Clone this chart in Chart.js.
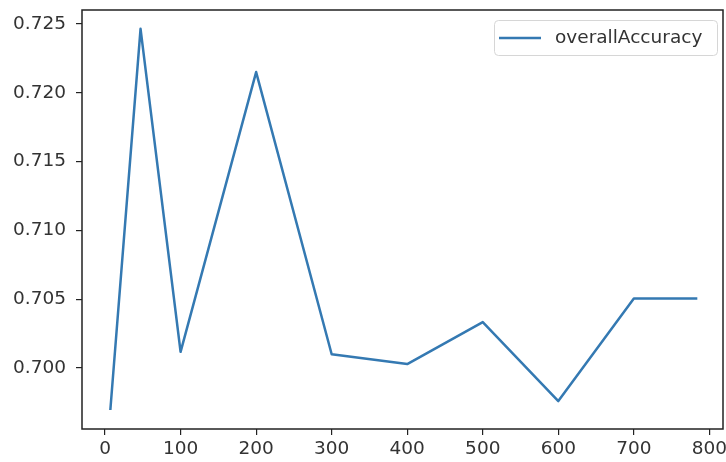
<!DOCTYPE html>
<html>
<head>
<meta charset="utf-8">
<script src="https://cdn.jsdelivr.net/npm/chart.js@4"></script>
<style>
  html, body { margin: 0; padding: 0; background: #fff; }
  #wrap { width: 726px; height: 462px; }
</style>
</head>
<body>
<div id="wrap"><canvas id="acc-chart" width="726" height="462"></canvas></div>
<script>
// Dữ liệu
const steps = [7, 47, 100, 200, 300, 400, 500, 600, 700, 784];
const overallAccuracy = [0.69695, 0.72465, 0.70118, 0.72151, 0.70100, 0.70029, 0.70334, 0.69760, 0.70505, 0.70505];
const xTicks = [0, 100, 200, 300, 400, 500, 600, 700, 800];
const yTicks = [0.700, 0.705, 0.710, 0.715, 0.720, 0.725];

const lineColor = '#3479b2';
const tickFont = { family: 'DejaVu Sans', size: 18.5 };

// Khung trục và chú thích kiểu matplotlib
const framePlugin = {
    id: 'frame',
    afterDraw(chart) {
        const { ctx, chartArea: a } = chart;
        ctx.save();
        ctx.strokeStyle = '#222';
        ctx.lineWidth = 1.5;
        ctx.strokeRect(a.left, a.top, a.right - a.left, a.bottom - a.top);

        // legend
        const label = chart.data.datasets[0].label;
        const bx = 494, by = 20, bw = 223, bh = 35;
        ctx.strokeStyle = '#d6d6d6';
        ctx.lineWidth = 1;
        ctx.fillStyle = 'rgba(255,255,255,0.8)';
        ctx.beginPath();
        ctx.roundRect(bx + 0.5, by + 0.5, bw, bh, 4);
        ctx.fill();
        ctx.stroke();
        ctx.strokeStyle = lineColor;
        ctx.lineWidth = 2.5;
        ctx.beginPath();
        ctx.moveTo(499, by + bh / 2 + 0.5);
        ctx.lineTo(541, by + bh / 2 + 0.5);
        ctx.stroke();
        ctx.fillStyle = '#333';
        ctx.font = '18.5px "DejaVu Sans"';
        ctx.textBaseline = 'middle';
        ctx.fillText(label, 555, by + bh / 2 + 1);
        ctx.restore();
    }
};

new Chart(document.getElementById('acc-chart').getContext('2d'), {
    type: 'line',
    data: {
        datasets: [{
            label: 'overallAccuracy',
            data: steps.map((s, i) => ({ x: s, y: overallAccuracy[i] })),
            borderColor: lineColor,
            borderWidth: 2.5,
            borderJoinStyle: 'round',
            borderCapStyle: 'butt',
            pointRadius: 0,
            tension: 0,
            fill: false
        }]
    },
    options: {
        responsive: false,
        animation: false,
        layout: { padding: { top: 10, right: 3, left: 0, bottom: 0 } },
        plugins: { legend: { display: false }, tooltip: { enabled: false } },
        scales: {
            x: {
                type: 'linear',
                min: -30.5,
                max: 818,
                afterBuildTicks: axis => { axis.ticks = xTicks.map(v => ({ value: v })); },
                afterFit: axis => { axis.height = 33; axis.paddingLeft = 0; axis.paddingRight = 0; },
                grid: { drawOnChartArea: false, drawTicks: true, tickLength: 6, color: '#222', lineWidth: 1.2 },
                border: { display: false },
                ticks: { color: '#333', font: tickFont, padding: 3, maxRotation: 0, autoSkip: false,
                    callback: v => String(v) }
            },
            y: {
                type: 'linear',
                min: 0.69557,
                max: 0.72602,
                afterBuildTicks: axis => { axis.ticks = yTicks.map(v => ({ value: v })); },
                afterFit: axis => { axis.width = 82; axis.paddingTop = 0; axis.paddingBottom = 0; },
                grid: { drawOnChartArea: false, drawTicks: true, tickLength: 6, color: '#222', lineWidth: 1.2 },
                border: { display: false },
                ticks: { color: '#333', font: tickFont, padding: 10,
                    callback: v => v.toFixed(3) }
            }
        }
    },
    plugins: [framePlugin]
});
</script>
</body>
</html>
